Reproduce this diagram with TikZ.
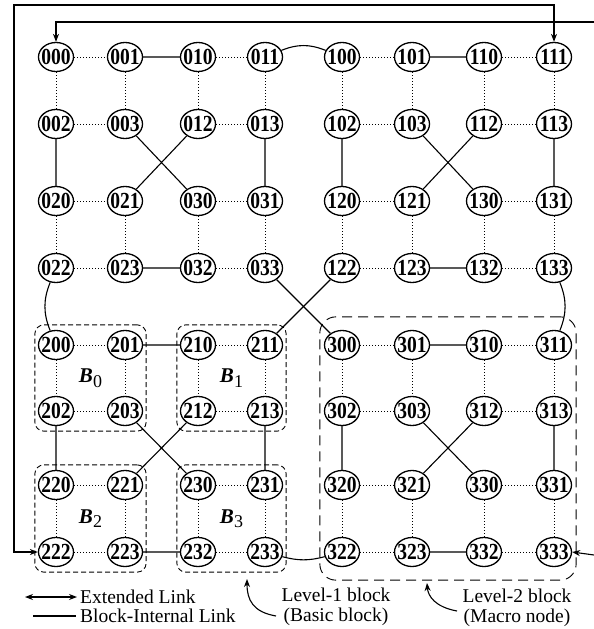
\documentclass[tikz,border=0pt]{standalone}
\usepackage{fontspec}
\usepackage{graphicx}
\setmainfont{Liberation Serif}
\usetikzlibrary{arrows.meta,fit,shapes.geometric,calc}
\newcommand{\ndlbl}[1]{\makebox[14pt]{\scalebox{0.85}[1]{#1}}}
\newcommand{\blbl}[1]{{\fontsize{21}{21}\selectfont\bfseries\itshape B}\raisebox{-4.5pt}{\fontsize{18}{18}\selectfont #1}}
\begin{document}
\begin{tikzpicture}[x=1pt,y=-1pt,
  nd/.style={ellipse,draw,fill=white,line width=1.3pt,minimum width=35pt,minimum height=29pt,
    inner sep=0pt,text height=15pt,text depth=0pt,font=\fontsize{23}{23}\selectfont\bfseries},
  dotl/.style={line width=0.9pt,dash pattern=on 1pt off 2pt},
  lnk/.style={line width=1.1pt},
  ext/.style={line width=1.1pt,>={Stealth[length=8pt,width=6pt]}},
  l1box/.style={draw,line width=0.9pt,dash pattern=on 5pt off 3pt,rounded corners=9pt,inner xsep=3pt,inner ysep=5pt},
  l2box/.style={draw,line width=0.9pt,dash pattern=on 10pt off 6pt,rounded corners=16pt,inner xsep=4pt,inner ysep=13pt},
  txt/.style={inner sep=0pt,font=\fontsize{19.5}{20}\selectfont},
  blab/.style={inner sep=0pt}
]
\useasboundingbox (0,0) rectangle (594,629);

% ---- nodes ----
\foreach \a in {0,1,2,3}{\foreach \b in {0,1,2,3}{\foreach \c in {0,1,2,3}{
  \pgfmathtruncatemacro\col{4*mod(\a,2)+2*mod(\b,2)+mod(\c,2)}
  \pgfmathtruncatemacro\row{4*int(\a/2)+2*int(\b/2)+int(\c/2)}
  \pgfmathsetmacro\xx{{56,125,198,265,342,412,484,554}[\col]}
  \pgfmathsetmacro\yy{{57,124,201,268,345,411,485,552}[\row]}
  \node[nd] (n\a\b\c) at (\xx,\yy) {\ndlbl{\a\b\c}};
}}}

% ---- boxes ----
\node[l1box,fit={(n200.west)(n201.east)(n200.north)(n202.south)}] (blk0) {};
\node[l1box,fit={(n210.west)(n211.east)(n210.north)(n212.south)}] (blk1) {};
\node[l1box,fit={(n220.west)(n221.east)(n220.north)(n222.south)}] (blk2) {};
\node[l1box,fit={(n230.west)(n231.east)(n230.north)(n232.south)}] (blk3) {};
\node[l2box,fit={(n300.west)(n311.east)(n300.north)(n322.south)}] (mac3) {};

% ---- dotted links ----
\foreach \a in {0,1,2,3}{\foreach \b in {0,1,2,3}{
  \draw[dotl] (n\a\b0) -- (n\a\b1) (n\a\b2) -- (n\a\b3) (n\a\b0) -- (n\a\b2) (n\a\b1) -- (n\a\b3);
}}

% ---- block-internal links (level 1) ----
\foreach \a in {0,1,2,3}{
  \draw[lnk] (n\a01) -- (n\a10) (n\a02) -- (n\a20) (n\a13) -- (n\a31)
             (n\a03) -- (n\a30) (n\a12) -- (n\a21) (n\a23) -- (n\a32);
}

% ---- level 2 links ----
\draw[lnk] (n011) to[bend left=22] (n100);
\draw[lnk] (n022) to[bend right=22] (n200);
\draw[lnk] (n133) to[bend left=22] (n311);
\draw[lnk] (n033) -- (n300);
\draw[lnk] (n122) -- (n211);
\draw[lnk] (n233) to[bend right=15] (n322);

% ---- extended links ----
\coordinate (ltop) at (14,5);
\coordinate (rtop) at (594,22);
\coordinate (rbot) at (594,555);
\draw[ext,<->] (n222.west) -| (ltop) -| (n111.north);
\draw[ext,->] (rtop) -| (n000.north);
\draw[ext,->] (rbot) -- (n333.east);

% ---- block labels ----
\node[blab] (lb0) at ($(n200)!0.5!(n203)$) {\blbl{0}};
\node[blab] (lb1) at ($(n210)!0.5!(n213)$) {\blbl{1}};
\node[blab] (lb2) at ($(n220)!0.5!(n223)$) {\blbl{2}};
\node[blab] (lb3) at ($(n230)!0.5!(n233)$) {\blbl{3}};

% ---- legend ----
\node[txt,anchor=west] (leg1) at (80,597) {Extended Link};
\node[txt,anchor=west] (leg2) at (80,616) {Block-Internal Link};
\coordinate (leg1s) at (25,597);
\coordinate (leg2s) at (33,616);
\draw[ext,<->] (leg1s) -- ([xshift=-3pt]leg1.west);
\draw[lnk] (leg2s) -- ([xshift=-4pt]leg2.west);

\node[txt,align=center] (lv1) at (336,607) {Level-1 block\\(Basic block)};
\node[txt,align=center] (lv2) at (517,608) {Level-2 block\\(Macro node)};
\coordinate (a1s) at (276,616);
\coordinate (a1e) at (247,579);
\coordinate (a2s) at (457,611);
\coordinate (a2e) at (427,583);
\draw[ext,->] (a1s) .. controls (253,612) and (247,600) .. (a1e);
\draw[ext,->] (a2s) .. controls (435,607) and (428,596) .. (a2e);
\end{tikzpicture}
\end{document}
